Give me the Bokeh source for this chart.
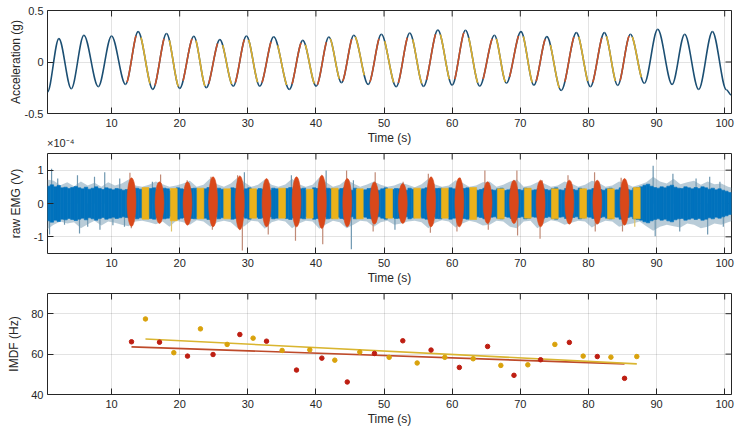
import numpy as np
from bokeh.plotting import figure
from bokeh.models import Range1d, FixedTicker, LinearAxis
from bokeh.layouts import column
from bokeh.embed import file_html
from bokeh.resources import INLINE

# ---------------- data ----------------
# acceleration extrema (time s, value g)
acc_t = [0.6, 2.27, 4.09, 5.94, 8.05, 10.0, 12.05, 13.9, 16.06, 18.07, 20.0, 22.08, 23.9,
         25.9, 27.86, 29.8, 31.76, 33.8, 36.1, 38.07, 40.03, 41.9, 43.75, 45.56, 47.67,
         49.6, 51.78, 53.77, 55.8, 57.9, 60.0, 61.95, 64.04, 66.2, 67.96, 70.1, 72.0, 73.9,
         76.0, 78.23, 80.29, 82.34, 84.3, 86.16, 88.2, 90.17, 92.28, 94.13, 96.18, 98.2,
         100.25, 100.95]
acc_v = [-0.29, 0.227, -0.26, 0.26, -0.24, 0.253, -0.217, 0.295, -0.266, 0.276, -0.256,
         0.25, -0.25, 0.217, -0.234, 0.253, -0.234, 0.245, -0.266, 0.21, -0.234, 0.243,
         -0.2, 0.26, -0.217, 0.27, -0.24, 0.282, -0.237, 0.31, -0.224, 0.308, -0.234, 0.26,
         -0.205, 0.295, -0.224, 0.246, -0.276, 0.285, -0.24, 0.285, -0.227, 0.27, -0.207,
         0.318, -0.217, 0.27, -0.266, 0.295, -0.27, -0.32]

# IMDF per contraction (time s, Hz)
imdf_red_t = [12.93, 17.04, 21.15, 24.9, 28.83, 32.75, 37.15, 40.87, 44.6, 48.59, 52.75,
              56.9, 61.05, 65.2, 69.07, 72.98, 77.2, 81.3, 85.3]
imdf_red = [66.1, 65.9, 59.0, 59.8, 69.7, 66.4, 52.1, 58.0, 46.2, 60.3, 66.6, 62.0, 53.4,
            63.8, 49.5, 57.2, 65.8, 58.8, 48.0]
imdf_yel_t = [14.98, 19.14, 23.05, 26.97, 30.78, 35.04, 39.1, 42.77, 46.44, 50.75, 54.86,
              58.92, 63.08, 67.14, 71.1, 75.07, 79.23, 83.3, 87.1]
imdf_yel = [77.4, 60.7, 72.5, 64.8, 67.9, 61.8, 62.1, 57.0, 61.0, 58.4, 55.6, 58.4, 57.7,
            54.4, 54.7, 64.8, 59.0, 58.5, 58.8]

# EMG burst amplitudes (x1e-4 V) for the red and yellow phases
red_top = [0.77, 0.65, 0.65, 0.80, 0.83, 0.75, 0.80, 0.85, 0.75, 0.65, 0.60, 0.80, 0.77,
           0.65, 0.70, 0.70, 0.70, 0.70, 0.75]
red_bot = [-0.69, -0.60, -0.65, -0.70, -0.79, -0.70, -0.70, -0.75, -0.70, -0.62, -0.60,
           -0.70, -0.70, -0.60, -0.60, -0.70, -0.62, -0.62, -0.65]
yel_top = [0.48, 0.45, 0.46, 0.44, 0.44, 0.46, 0.43, 0.46, 0.44, 0.44, 0.46, 0.46, 0.48,
           0.44, 0.46, 0.44, 0.44, 0.44, 0.48]
yel_bot = [-0.47, -0.52, -0.46, -0.46, -0.44, -0.44, -0.44, -0.46, -0.46, -0.44, -0.44,
           -0.44, -0.48, -0.46, -0.44, -0.46, -0.44, -0.46, -0.46]

# EMG dense core amplitude per 0.5 s (x1e-2 of 1e-4 V), from 0.5 s to 101 s
emg_core = [52, 56, 50, 54, 47, 49, 45, 48, 51, 47,
            44, 49, 43, 46, 50, 45, 42, 47, 44, 41,
            45, 43, 40, 42, 44, 40, 46, 43, 40, 38,
            45, 47, 42, 40, 46, 44, 38, 40, 47, 44,
            42, 40, 45, 46, 39, 41, 44, 48, 42, 40,
            46, 43, 40, 39, 47, 45, 41, 40, 44, 47,
            40, 41, 45, 43, 42, 40, 46, 44, 38, 40,
            45, 48, 43, 40, 44, 46, 39, 40, 47, 45,
            42, 40, 46, 44, 40, 41, 45, 47, 42, 40,
            46, 43, 39, 41, 45, 46, 42, 40, 44, 47,
            40, 42, 45, 44, 41, 40, 46, 43, 39, 40,
            44, 47, 42, 40, 45, 46, 40, 41, 47, 44,
            42, 40, 45, 47, 43, 44, 40, 42, 46, 45,
            41, 40, 44, 46, 39, 41, 45, 47, 42, 40,
            46, 44, 40, 41, 45, 46, 42, 40, 44, 47,
            41, 40, 45, 44, 42, 40, 46, 43, 40, 41,
            45, 47, 42, 40, 44, 46, 40, 41, 47, 44,
            42, 40, 46, 48, 50, 55, 58, 52, 48, 46,
            50, 47, 52, 55, 49, 46, 45, 50, 47, 44,
            48, 45, 50, 47, 43, 46, 41, 44, 40, 37,
            33]

# EMG fringe (outer spiky envelope) per 1 s (x1e-2 of 1e-4 V), from 0.5 s to 101.5 s
emg_fringe_hi = [72, 68, 55, 64, 52, 66, 54, 62, 50, 64,
                 54, 60, 72, 54, 50, 56, 66, 58, 50, 54,
                 60, 68, 50, 56, 76, 58, 50, 60, 78, 64,
                 50, 56, 72, 56, 50, 57, 74, 58, 50, 56,
                 78, 64, 50, 56, 72, 60, 50, 57, 66, 56,
                 50, 54, 62, 56, 49, 58, 74, 57, 50, 54,
                 70, 62, 50, 54, 64, 66, 50, 56, 66, 72,
                 50, 54, 64, 60, 50, 54, 66, 60, 50, 56,
                 68, 62, 50, 54, 66, 60, 50, 56, 64, 80,
                 66, 60, 74, 58, 64, 68, 56, 66, 58, 60,
                 50, 45]
emg_fringe_lo = [78, 64, 54, 60, 56, 74, 62, 52, 66, 54,
                 58, 64, 68, 54, 52, 56, 62, 54, 70, 52,
                 56, 64, 50, 54, 70, 56, 52, 56, 74, 68,
                 52, 54, 76, 56, 50, 54, 74, 60, 52, 54,
                 76, 62, 52, 56, 74, 64, 52, 54, 70, 56,
                 52, 64, 60, 54, 52, 56, 74, 58, 50, 54,
                 72, 60, 52, 56, 66, 64, 52, 54, 70, 74,
                 54, 52, 74, 60, 50, 54, 64, 58, 52, 54,
                 72, 60, 52, 54, 70, 64, 60, 54, 68, 82,
                 70, 64, 68, 72, 60, 64, 74, 70, 60, 64,
                 56, 50]

# isolated EMG spikes (time s, x1e-4 V)
spike_t = [0.9, 1.2, 2.1, 3.1, 5.0, 5.3, 6.5, 7.5, 8.3, 9.0, 10.2, 11.2, 11.9, 12.7, 12.9,
           16.0, 17.2, 18.8, 21.1, 24.6, 24.8, 28.5, 29.2, 29.5, 33.0, 36.4, 37.0, 41.0,
           41.5, 44.5, 45.2, 45.5, 48.7, 48.4, 51.6, 52.8, 56.5, 56.8, 61.2, 60.7, 64.8,
           65.3, 69.5, 69.6, 72.9, 73.2, 77.0, 80.9, 81.0, 84.8, 85.0, 86.8, 89.5, 89.8,
           92.4, 93.4, 95.8, 97.5, 97.8, 99.3, 99.8]
spike_v = [-0.93, 1.04, 0.75, -0.64, 0.85, -0.9, -0.7, 0.8, -0.79, 0.94, -0.65, 0.75, -0.7,
           0.92, -0.74, 0.65, 0.87, -0.84, 0.7, 0.8, -0.79, 0.85, -1.41, 0.94, -0.93, 0.85,
           -1.12, -1.22, 0.99, 0.99, -1.37, 0.7, 0.94, -0.84, -0.79, 0.65, 0.89, -0.88, 0.77,
           -0.84, 0.99, -0.79, 0.99, -0.96, -1.06, 0.7, 0.85, 0.94, -0.84, 0.77, -0.84, -0.7,
           1.13, -0.98, 0.89, -0.84, 0.75, -0.93, 0.8, 0.65, -0.7]

x_ticks = [10, 20, 30, 40, 50, 60, 70, 80, 90, 100]

# ---------------- style ----------------
FONT = "Liberation Sans"
TXT = "#262626"
BLUE = "#0072BD"
RED = "#D9481A"
YEL = "#EBB21A"
ACC = "#1C4F73"
ACC_RED = "#CC5228"
ACC_YEL = "#DDB02E"
FRINGE = "#7499B2"
SPK_BLUE = "#6E97B0"
SPK_RED = "#C08A76"
SPK_YEL = "#DEC46A"
DOT_RED = "#BE1E12"
DOT_YEL = "#D9A20C"
LINE_RED = "#BE4A2A"
LINE_YEL = "#D9B530"
SEG_HALF = 0.65     # half width (s) of the coloured part of each phase
BURST_W = 1.0       # width (s) of yellow EMG bursts
RBURST_W = 1.3      # width (s) of red EMG bursts
W = 743
XR = (0.6, 101)
EXP_X = 2.55        # where the axis exponent label is centred


def make_fig(h, top, bottom, yr):
    p = figure(width=W, height=h, output_backend="svg", toolbar_location=None,
               x_range=Range1d(*XR), y_range=Range1d(*yr),
               min_border_left=47, min_border_right=12,
               min_border_top=top, min_border_bottom=bottom)
    p.outline_line_color = TXT
    p.outline_line_width = 1
    p.background_fill_color = "white"
    p.border_fill_color = "white"
    return p


def style_axes(p, yticks, yover, ylabel, ylab_standoff, yr):
    xa = p.xaxis[0]
    ya = p.yaxis[0]
    xa.ticker = FixedTicker(ticks=x_ticks)
    ya.ticker = FixedTicker(ticks=yticks)
    ya.major_label_overrides = yover
    xa.axis_label = "Time (s)"
    ya.axis_label = ylabel
    for ax in (xa, ya):
        ax.axis_line_color = None
        ax.major_tick_in = 6
        ax.major_tick_out = 0
        ax.minor_tick_out = 0
        ax.major_tick_line_color = TXT
        ax.minor_tick_line_color = None
        ax.major_label_text_font = FONT
        ax.major_label_text_font_size = "11px"
        ax.major_label_text_color = TXT
        ax.axis_label_text_font = FONT
        ax.axis_label_text_font_size = "12px"
        ax.axis_label_text_font_style = "normal"
        ax.axis_label_text_color = TXT
    xa.major_label_standoff = 5
    xa.axis_label_standoff = 1
    ya.major_label_standoff = 4
    ya.axis_label_standoff = ylab_standoff
    # mirrored ticks on the top and right edges (half of each dash is clipped away)
    p.scatter(x=x_ticks, y=[yr[1]] * len(x_ticks), marker="dash", size=12,
              angle=np.pi / 2, line_color=TXT, line_width=1)
    p.scatter(x=[XR[1]] * len(yticks), y=yticks, marker="dash", size=12,
              line_color=TXT, line_width=1)
    p.xgrid.ticker = FixedTicker(ticks=x_ticks)
    p.ygrid.ticker = FixedTicker(ticks=yticks)
    for g in (p.xgrid[0], p.ygrid[0]):
        g.grid_line_color = TXT
        g.grid_line_alpha = 0.13


def lerp(a, b, u):
    return a + (b - a) * u


def blossom(P, u, v, w):
    q1 = [lerp(P[k], P[k + 1], u) for k in range(3)]
    q2 = [lerp(q1[k], q1[k + 1], v) for k in range(2)]
    return lerp(q2[0], q2[1], w)


def half_wave(i):
    t0, t1 = acc_t[i], acc_t[i + 1]
    v0, v1 = acc_v[i], acc_v[i + 1]
    d = (t1 - t0) / 3.0
    return [np.array([t0, v0]), np.array([t0 + d, v0]),
            np.array([t1 - d, v1]), np.array([t1, v1])]


def bez_cols(curves):
    cols = {k: [] for k in ("x0", "y0", "cx0", "cy0", "cx1", "cy1", "x1", "y1")}
    for P in curves:
        cols["x0"].append(P[0][0]); cols["y0"].append(P[0][1])
        cols["cx0"].append(P[1][0]); cols["cy0"].append(P[1][1])
        cols["cx1"].append(P[2][0]); cols["cy1"].append(P[2][1])
        cols["x1"].append(P[3][0]); cols["y1"].append(P[3][1])
    return cols


def coloured(mids):
    out = []
    for m in mids:
        i = max(k for k in range(len(acc_t) - 1) if acc_t[k] <= m)
        t0, t1 = acc_t[i], acc_t[i + 1]
        a = max(0.0, (m - SEG_HALF - t0) / (t1 - t0))
        b = min(1.0, (m + SEG_HALF - t0) / (t1 - t0))
        P = half_wave(i)
        out.append([blossom(P, a, a, a), blossom(P, a, a, b),
                    blossom(P, a, b, b), blossom(P, b, b, b)])
    return out


# ---------------- panel 1: acceleration ----------------
Y1 = (-0.5, 0.5)
p1 = make_fig(152, 10, 39, Y1)
style_axes(p1, [-0.5, 0, 0.5], {-0.5: "-0.5", 0: "0", 0.5: "0.5"}, "Acceleration (g)", -1, Y1)
full = bez_cols([half_wave(i) for i in range(len(acc_t) - 1)])
p1.bezier(**full, line_color=ACC, line_width=1.6)
p1.bezier(**bez_cols(coloured(imdf_red_t)), line_color=ACC_RED, line_width=1.6)
p1.bezier(**bez_cols(coloured(imdf_yel_t)), line_color=ACC_YEL, line_width=1.6)

# exponent of the EMG axis, drawn in the gap above panel 2 by a label-only axis
exp_ax = LinearAxis(ticker=FixedTicker(ticks=[EXP_X]),
                    major_label_overrides={EXP_X: "\u00d710\u207b\u2074"})
exp_ax.axis_line_color = None
exp_ax.major_tick_line_color = None
exp_ax.minor_tick_line_color = None
exp_ax.major_tick_in = 0
exp_ax.major_tick_out = 0
exp_ax.minor_tick_in = 0
exp_ax.minor_tick_out = 0
exp_ax.major_label_text_font = FONT
exp_ax.major_label_text_font_size = "11px"
exp_ax.major_label_text_color = TXT
exp_ax.major_label_standoff = -11
p1.add_layout(exp_ax, "below")

# ---------------- panel 2: raw EMG ----------------
Y2 = (-1.5, 1.5)
p2 = make_fig(140, 1, 39, Y2)
style_axes(p2, [-1, 0, 1], {-1: "-1", 0: "0", 1: "1"}, "raw EMG (V)", 8, Y2)

fringe_t = 0.5 + np.arange(len(emg_fringe_hi))
p2.varea(x=fringe_t, y1=-np.array(emg_fringe_lo) / 100.0, y2=np.array(emg_fringe_hi) / 100.0,
         fill_color=FRINGE, fill_alpha=0.5)


def spike_colour(t):
    if min(abs(t - m) for m in imdf_red_t) < 0.6:
        return SPK_RED
    if min(abs(t - m) for m in imdf_yel_t) < 0.6:
        return SPK_YEL
    return SPK_BLUE


p2.segment(x0=spike_t, y0=[0] * len(spike_t), x1=spike_t, y1=spike_v,
           line_color=[spike_colour(t) for t in spike_t], line_width=1.2)

core_t = 0.75 + 0.5 * np.arange(len(emg_core))
core = np.array(emg_core) / 100.0
p2.vbar(x=core_t, width=0.5, top=core, bottom=-core, fill_color=BLUE, line_color=BLUE,
        line_width=0.6)

p2.quad(left=[m - BURST_W / 2 for m in imdf_yel_t], right=[m + BURST_W / 2 for m in imdf_yel_t],
        top=yel_top, bottom=yel_bot, fill_color=YEL, line_color=YEL, line_width=0.6)
p2.ellipse(x=imdf_red_t, y=[(a + b) / 2 for a, b in zip(red_top, red_bot)],
           width=RBURST_W, height=[a - b for a, b in zip(red_top, red_bot)],
           fill_color=RED, line_color=RED, line_width=0.6)

# ---------------- panel 3: IMDF ----------------
Y3 = (40, 90)
p3 = make_fig(140, 1, 38, Y3)
style_axes(p3, [40, 60, 80], {40: "40", 60: "60", 80: "80"}, "IMDF (Hz)", 7, Y3)

for tt, vv, lc in ((imdf_red_t, imdf_red, LINE_RED), (imdf_yel_t, imdf_yel, LINE_YEL)):
    k, c = np.polyfit(tt, vv, 1)
    xs = [tt[0], tt[-1]]
    p3.line(xs, [k * x + c for x in xs], line_color=lc, line_width=1.6)
for tt, vv, dc in ((imdf_red_t, imdf_red, DOT_RED), (imdf_yel_t, imdf_yel, DOT_YEL)):
    p3.scatter(tt, vv, size=4.5, fill_color=dc, line_color=dc)

layout = column(p1, p2, p3, spacing=0)
open("out.html", "w").write(file_html(layout, INLINE))
